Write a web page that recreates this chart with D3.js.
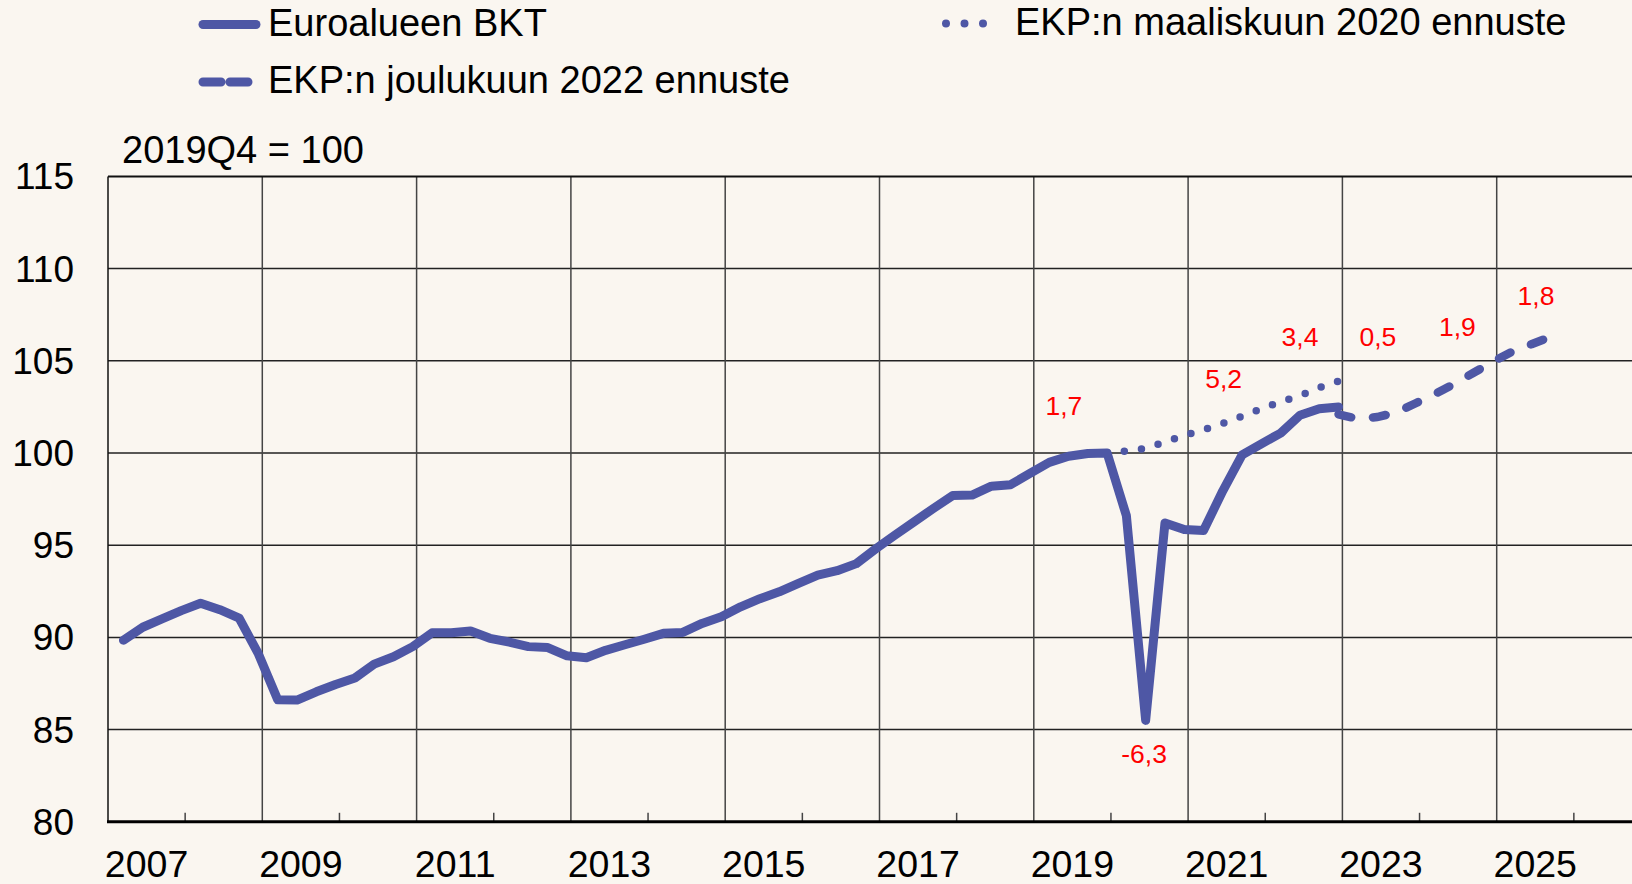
<!DOCTYPE html>
<html>
<head>
<meta charset="utf-8">
<script src="https://cdn.jsdelivr.net/npm/d3@7"></script>
<style>
  body { margin: 0; background: #faf6f0; }
  text { font-family: "Liberation Sans", Arial, sans-serif; }
</style>
</head>
<body>
<svg id="chart" width="1632" height="884"></svg>
<script>
// Euroalueen BKT, 2019Q4 = 100, quarterly from 2007Q1 to 2022Q4
let bktStart = 2007;
let bkt = [
    89.85, 90.55, 91.0, 91.45,   91.85, 91.5, 91.05, 89.1,
    86.62, 86.6, 87.05, 87.45,   87.8, 88.55, 88.95, 89.5,
    90.25, 90.25, 90.35, 89.95,  89.75, 89.5, 89.45, 89.0,
    88.9, 89.3, 89.6, 89.9,      90.22, 90.27, 90.76, 91.12,
    91.66, 92.1, 92.47, 92.93,   93.38, 93.62, 94.0, 94.8,
    95.55, 96.27, 97.0, 97.7,    97.72, 98.2, 98.28, 98.9,
    99.49, 99.82, 99.97, 100.0,  96.6, 85.5, 96.2, 95.85,
    95.8, 97.95, 99.9, 100.5,    101.08, 102.05, 102.4, 102.5
];

// EKP:n maaliskuun 2020 ennuste, from 2019Q4 to 2022Q4
let ekp2020Start = 2019.75;
let ekp2020 = [100.0, 100.1, 100.25, 100.6, 100.95, 101.25, 101.6, 102.0, 102.4, 102.78, 103.1, 103.55, 103.9];

// EKP:n joulukuun 2022 ennuste, from 2022Q4 to 2025Q3
let ekp2022Start = 2022.75;
let ekp2022 = [102.1, 101.85, 101.95, 102.2, 102.7, 103.2, 103.75, 104.35, 104.95, 105.5, 105.9, 106.3];

// annual growth labels (%), placed at a point in the year and a level of the index
let growthLabels = ["1,7", "-6,3", "5,2", "3,4", "0,5", "1,9", "1,8"];
let growthAt = [2019.39, 2020.43, 2021.46, 2022.45, 2023.46, 2024.49, 2025.51];
let growthLevels = [102.05, 83.2, 103.5, 105.8, 105.8, 106.35, 108.0];

let yTicks = [80, 85, 90, 95, 100, 105, 110, 115];
let yearLabels = [2007, 2009, 2011, 2013, 2015, 2017, 2019, 2021, 2023, 2025];
let minorYears = [2008, 2010, 2012, 2014, 2016, 2018, 2020, 2022, 2024, 2026];

let blue = "#4e57a5";

let svg = d3.select("#chart");

let x = d3.scaleLinear().domain([2007, 2027]).range([108, 108 + 20 * 77.15]);
let y = d3.scaleLinear().domain([80, 115]).range([821.8, 176.4]);

// quarter i of a series that starts at 'start' sits a bit before the quarter's end
function qx(start) {
    return function(d, i) { return x(start + i / 4 + 0.2); };
}

//grid
svg.append("g")
    .selectAll("line")
    .data(yTicks.filter(function(d) { return d > 80 && d < 115; }))
    .enter().append("line")
    .attr("x1", x(2007)).attr("x2", 1632)
    .attr("y1", function(d) { return y(d); })
    .attr("y2", function(d) { return y(d); })
    .attr("stroke", "#222")
    .attr("stroke-width", 1.5);

svg.append("g")
    .selectAll("line")
    .data(yearLabels.filter(function(d) { return d > 2007; }))
    .enter().append("line")
    .attr("x1", function(d) { return x(d); })
    .attr("x2", function(d) { return x(d); })
    .attr("y1", y(115)).attr("y2", y(80))
    .attr("stroke", "#444")
    .attr("stroke-width", 1.5);

svg.append("g")
    .selectAll("line")
    .data(minorYears)
    .enter().append("line")
    .attr("x1", function(d) { return x(d); })
    .attr("x2", function(d) { return x(d); })
    .attr("y1", y(80) - 9).attr("y2", y(80))
    .attr("stroke", "#444")
    .attr("stroke-width", 1.5);

// frame
svg.append("line")
    .attr("x1", x(2007)).attr("x2", 1632)
    .attr("y1", y(115)).attr("y2", y(115))
    .attr("stroke", "#111").attr("stroke-width", 2);
svg.append("line")
    .attr("x1", x(2007)).attr("x2", x(2007))
    .attr("y1", y(115)).attr("y2", y(80))
    .attr("stroke", "#111").attr("stroke-width", 1.5);
svg.append("line")
    .attr("x1", x(2007) - 1).attr("x2", 1632)
    .attr("y1", y(80)).attr("y2", y(80))
    .attr("stroke", "#000").attr("stroke-width", 3);

// axis labels
svg.append("g")
    .selectAll("text")
    .data(yTicks)
    .enter().append("text")
    .attr("x", 74)
    .attr("y", function(d) { return y(d); })
    .attr("dy", "0.35em")
    .attr("text-anchor", "end")
    .attr("font-size", 37)
    .text(function(d) { return d; });

svg.append("g")
    .selectAll("text")
    .data(yearLabels)
    .enter().append("text")
    .attr("x", function(d) { return x(d + 0.5); })
    .attr("y", 877)
    .attr("text-anchor", "middle")
    .attr("font-size", 37.5)
    .text(function(d) { return d; });

svg.append("text")
    .attr("x", 122)
    .attr("y", 163)
    .attr("font-size", 38)
    .text("2019Q4 = 100");

// lines
let line = function(start) {
    return d3.line().x(qx(start)).y(function(d) { return y(d); });
};

svg.append("path")
    .datum(ekp2020)
    .attr("d", line(ekp2020Start))
    .attr("fill", "none")
    .attr("stroke", blue)
    .attr("stroke-width", 7.5)
    .attr("stroke-linecap", "round")
    .attr("stroke-dasharray", "0,17.3");

svg.append("path")
    .datum(ekp2022)
    .attr("d", line(ekp2022Start))
    .attr("fill", "none")
    .attr("stroke", blue)
    .attr("stroke-width", 8.5)
    .attr("stroke-linecap", "round")
    .attr("stroke-dasharray", "13,22");

svg.append("path")
    .datum(bkt)
    .attr("d", line(bktStart))
    .attr("fill", "none")
    .attr("stroke", blue)
    .attr("stroke-width", 9)
    .attr("stroke-linecap", "round")
    .attr("stroke-linejoin", "round");

// growth labels
svg.append("g")
    .selectAll("text")
    .data(growthLabels)
    .enter().append("text")
    .attr("x", function(d, i) { return x(growthAt[i]); })
    .attr("y", function(d, i) { return y(growthLevels[i]); })
    .attr("text-anchor", "middle")
    .attr("font-size", 26.5)
    .attr("fill", "#ff0000")
    .text(function(d) { return d; });

// legend
let legend = [
    {name: "Euroalueen BKT", x: 203, y: 24.5, dash: null, w: 9},
    {name: "EKP:n joulukuun 2022 ennuste", x: 203, y: 82, dash: "18,9", w: 9},
    {name: "EKP:n maaliskuun 2020 ennuste", x: 946, y: 23.5, dash: "0,18.5", w: 8}
];

let lg = svg.append("g")
    .selectAll("g")
    .data(legend)
    .enter().append("g");

lg.append("line")
    .attr("x1", function(d) { return d.x; })
    .attr("x2", function(d) { return d.dash && d.dash.indexOf("0,") == 0 ? d.x + 55.5 : d.x + 53; })
    .attr("y1", function(d) { return d.y; })
    .attr("y2", function(d) { return d.y; })
    .attr("stroke", blue)
    .attr("stroke-width", function(d) { return d.w; })
    .attr("stroke-linecap", "round")
    .attr("stroke-dasharray", function(d) { return d.dash; });

lg.append("text")
    .attr("x", function(d) { return d.dash && d.dash.indexOf("0,") == 0 ? 1015 : 268; })
    .attr("y", function(d) { return d.y + 11; })
    .attr("font-size", 38)
    .text(function(d) { return d.name; });
</script>
</body>
</html>
